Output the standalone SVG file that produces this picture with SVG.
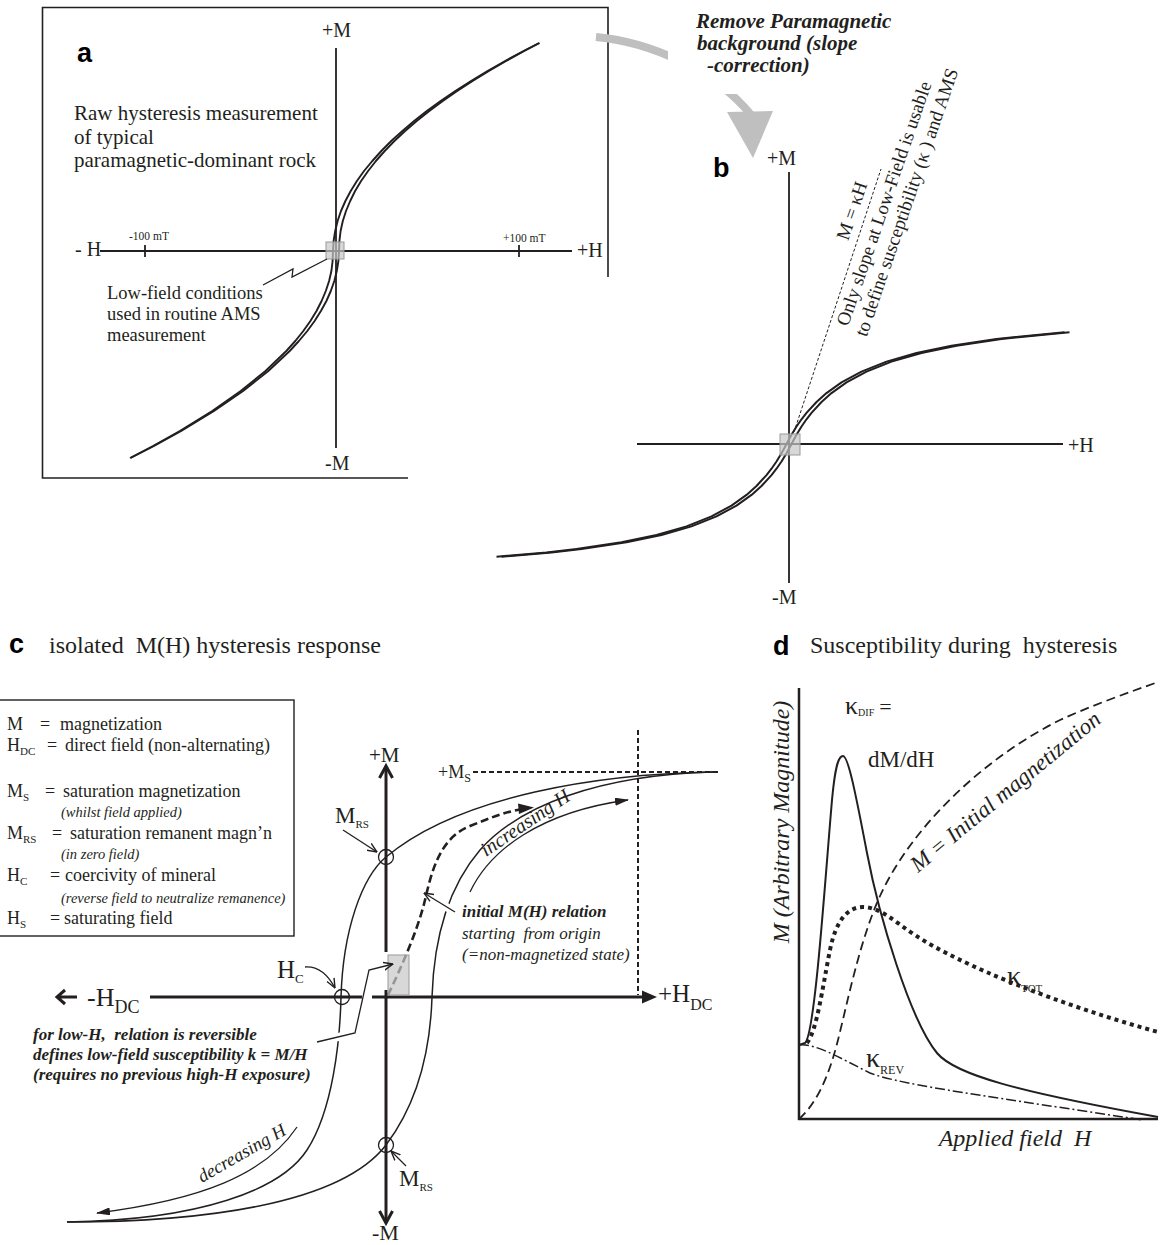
<svg xmlns="http://www.w3.org/2000/svg" xmlns:xlink="http://www.w3.org/1999/xlink" width="1166" height="1245" viewBox="0 0 1166 1245">
<style>
.ln{stroke:#231f20;fill:none}
.t{font-family:"Liberation Serif","Times New Roman",serif;fill:#231f20}
.it{font-family:"Liberation Serif","Times New Roman",serif;font-style:italic;fill:#231f20}
.bi{font-family:"Liberation Serif","Times New Roman",serif;font-style:italic;font-weight:bold;fill:#231f20}
.lab{font-family:"Liberation Sans",Arial,sans-serif;font-weight:bold;font-size:27px;fill:#000}
.box{fill:#c8c8c8;fill-opacity:0.7;stroke:#9a9a9a;stroke-width:1}
</style>
<defs>
<marker id="open" viewBox="0 0 10 10" refX="9.5" refY="5" markerWidth="10" markerHeight="10" markerUnits="userSpaceOnUse" orient="auto"><path d="M0,1 L9.5,5 L0,9" fill="none" stroke="#231f20" stroke-width="1.4"/></marker>
<marker id="fill" viewBox="0 0 14 8" refX="13" refY="4" markerWidth="14" markerHeight="8" markerUnits="userSpaceOnUse" orient="auto"><path d="M0,0 L14,4 L0,8 z" fill="#231f20"/></marker>
<path id="curveB" d="M499,556.8 L549,552.4 L579,549 L624,542.3 L659,535 L689,526.4 L714,516.4 L734,505.6 L749,494.9 L759,486 L769,475.1 L774,468.7 L779,461.5 L784,453.3 L789,444 L794,434.7 L799,426.5 L804,419.3 L809,412.9 L819,402 L829,393.1 L844,382.4 L864,371.6 L889,361.6 L919,353 L954,345.7 L999,339 L1067,332.2"/>
</defs>
<rect width="1166" height="1245" fill="#fff"/>

<!-- Panel a -->
<g id="panel-a">
<polyline class="ln" stroke-width="1.6" points="408,478 42.5,478 42.5,7.5 608,7.5 608,277"/>
<text class="lab" x="77" y="62">a</text>
<text class="t" font-size="21" x="74" y="120">Raw hysteresis measurement</text>
<text class="t" font-size="21" x="74" y="143.5">of typical</text>
<text class="t" font-size="21" x="74" y="167">paramagnetic-dominant rock</text>
<line class="ln" stroke-width="1.8" x1="336" y1="48" x2="336" y2="448"/>
<line class="ln" stroke-width="1.8" x1="100" y1="251" x2="572" y2="251"/>
<line class="ln" stroke-width="1.8" x1="145" y1="245" x2="145" y2="257"/>
<line class="ln" stroke-width="1.8" x1="519" y1="245" x2="519" y2="257"/>
<text class="t" font-size="20" x="322" y="37">+M</text>
<text class="t" font-size="20" x="325" y="470">-M</text>
<text class="t" font-size="20" x="75" y="256">- H</text>
<text class="t" font-size="20" x="577" y="257">+H</text>
<text class="t" font-size="11.5" x="129" y="240">-100 mT</text>
<text class="t" font-size="11.5" x="503" y="242">+100 mT</text>
<polyline class="ln" stroke-width="1.9" stroke-linejoin="round" points="130.6,458 154,446 181.2,431 214,411 243.1,391 268.3,371 289.7,351 298.9,341 307.3,331 314.6,321 320.9,311 326.4,301 330.8,291 334.3,281 336.8,271 338.4,261 339,251 339.4,241 340.6,231 342.8,221 346,211 350.2,201 355.1,191 361.1,181 368.1,171 375.9,161 384.7,151 394.4,141 405.1,131 416.7,121 429.3,111 442.8,101 457.2,91 472.6,81 488.9,71 506.1,61 524.3,51 539.6,43"/>
<polyline class="ln" stroke-width="1.9" stroke-linejoin="round" points="130,458 153,446 179.8,431 212.2,411 240.7,391 265.5,371 286.3,351 295.3,341 303.3,331 310.4,321 316.5,311 321.6,301 325.8,291 329.1,281 331.4,271 332.6,261 333,251 333.6,241 335.2,231 337.6,221 341,211 345.4,201 350.7,191 356.9,181 364,171 372.3,161 381.3,151 391.2,141 402.4,131 414.1,121 426.8,111 440.6,101 455.3,91 471,81 487.5,71 505.1,61 523.5,51 539,43"/>
<rect class="box" x="326" y="242" width="18" height="17"/>
<polyline class="ln" stroke-width="1.3" points="263,285 293,269 292,277 327,259"/>
<text class="t" font-size="18.5" x="107" y="299">Low-field conditions</text>
<text class="t" font-size="18.5" x="107" y="320">used in routine AMS</text>
<text class="t" font-size="18.5" x="107" y="341">measurement</text>
</g>

<!-- Slope-correction arrow -->
<g id="slope-arrow">
<path d="M596,37 C650,42 715,70 752,116" fill="none" stroke="#bfbfbf" stroke-width="8"/>
<rect x="668" y="4" width="240" height="90" fill="#fff"/>
<polygon points="727,112 773,111 753,158" fill="#bfbfbf"/>
<text class="bi" font-size="21" x="696" y="28">Remove Paramagnetic</text>
<text class="bi" font-size="21" x="697" y="50">background (slope</text>
<text class="bi" font-size="21" x="707" y="72">-correction)</text>
</g>

<!-- Panel b -->
<g id="panel-b">
<text class="lab" x="713" y="177">b</text>
<line class="ln" stroke-width="1.8" x1="789" y1="172" x2="789" y2="583"/>
<line class="ln" stroke-width="1.8" x1="637" y1="444" x2="1063" y2="444"/>
<text class="t" font-size="20" x="767" y="165">+M</text>
<text class="t" font-size="20" x="772" y="604">-M</text>
<text class="t" font-size="20" x="1068" y="452">+H</text>
<use xlink:href="#curveB" class="ln" stroke-width="2" stroke-linejoin="round" transform="translate(2.5,0)"/>
<use xlink:href="#curveB" class="ln" stroke-width="2" stroke-linejoin="round" transform="translate(-2.5,0)"/>
<line class="ln" stroke-width="1" stroke-dasharray="3,2" x1="794" y1="432" x2="881" y2="169"/>
<rect class="box" x="780" y="434" width="20" height="21"/>
<g transform="translate(848,327) rotate(-71)">
<text class="t" font-size="19" x="81" y="-28">M = κH</text>
<text class="t" font-size="19" x="0" y="0">Only slope at Low-Field is usable</text>
<text class="t" font-size="19" x="-4" y="21">to define susceptibility (κ ) and AMS</text>
</g>
</g>

<!-- Panel c -->
<g id="panel-c">
<text class="lab" x="9" y="653">c</text>
<text class="t" font-size="24" x="49" y="653" xml:space="preserve">isolated  M(H) hysteresis response</text>
<g id="legend">
<rect x="-2" y="700" width="296" height="236" fill="#fff" stroke="#231f20" stroke-width="1.4"/>
<g class="t" font-size="18">
<text x="7" y="730">M</text><text x="40" y="730">=</text><text x="60" y="730">magnetization</text>
<text x="7" y="751">H<tspan font-size="11" dy="4">DC</tspan></text><text x="47" y="751">=</text><text x="65" y="751">direct field (non-alternating)</text>
<text x="7" y="797">M<tspan font-size="11" dy="4">S</tspan></text><text x="45" y="797">=</text><text x="63" y="797">saturation magnetization</text>
<text x="7" y="839">M<tspan font-size="11" dy="4">RS</tspan></text><text x="52" y="839">=</text><text x="70" y="839">saturation remanent magn’n</text>
<text x="7" y="881">H<tspan font-size="11" dy="4">C</tspan></text><text x="50" y="881">=</text><text x="65" y="881">coercivity of mineral</text>
<text x="7" y="924">H<tspan font-size="11" dy="4">S</tspan></text><text x="50" y="924">=</text><text x="64" y="924">saturating field</text>
</g>
<g class="it" font-size="14.5">
<text x="61" y="817">(whilst field applied)</text>
<text x="61" y="859">(in zero field)</text>
<text x="61" y="903">(reverse field to neutralize remanence)</text>
</g>
</g>
<!-- dashed saturation guides -->
<line class="ln" stroke-width="2" stroke-dasharray="5,3" x1="473" y1="772" x2="720" y2="772"/>
<line class="ln" stroke-width="2" stroke-dasharray="5,3" x1="638" y1="730" x2="638" y2="995"/>
<!-- hysteresis loop -->
<path id="desc" class="ln" stroke-width="1.5" d="M713,772 C600,774 460,795 386,857 C362,877 343,930 341,997 C340,1040 333,1110 307,1150 C281,1190 200,1220 67,1222"/>
<path id="asc" class="ln" stroke-width="1.5" d="M67,1222 C200,1222 340,1205 386,1145 C414,1108 430,1060 432,997 C434,934 450,885 480,850 C520,805 600,775 713,772"/>
<!-- halos for leaders crossing curves -->
<line x1="320" y1="1041" x2="352" y2="1034" stroke="#fff" stroke-width="8"/>
<line x1="458" y1="914" x2="440" y2="903" stroke="#fff" stroke-width="8"/>
<!-- axes -->
<line class="ln" stroke-width="3" x1="386" y1="767" x2="386" y2="952"/>
<line class="ln" stroke-width="3" x1="386" y1="990" x2="386" y2="1222"/>
<line class="ln" stroke-width="3" x1="150" y1="997" x2="362" y2="997"/>
<line class="ln" stroke-width="3" x1="372" y1="997" x2="645" y2="997"/>
<path class="ln" stroke-width="3" d="M379.5,778 L386,766 L392.5,778"/>
<path class="ln" stroke-width="3" d="M379.5,1211 L386,1223 L392.5,1211"/>
<polygon points="642,990.5 657,997 642,1003.5" fill="#231f20"/>
<path class="ln" stroke-width="3" d="M77,997 L57,997 M65,990 L57,997 L65,1004"/>
<!-- initial magnetization -->
<path class="ln" stroke-width="2.6" stroke-dasharray="8,4" d="M388,995 C400,970 418,930 425,900 C432,870 440,838 470,826 C490,818 505,812 520,809.5"/>
<polygon points="518,803.5 534,807.5 519,814" fill="#231f20"/>
<rect class="box" x="388" y="955" width="21" height="40"/>
<!-- increasing / decreasing arrows -->
<path class="ln" stroke-width="1.3" marker-end="url(#fill)" d="M470,892 C490,850 540,812 628,800"/>
<path class="ln" stroke-width="1.3" marker-end="url(#fill)" d="M297,1127 C265,1175 200,1200 97,1213"/>
<text class="it" font-size="20" transform="translate(486,857) rotate(-34)">increasing H</text>
<text class="it" font-size="18.5" transform="translate(202,1183) rotate(-30)">decreasing H</text>
<!-- circles -->
<circle class="ln" stroke-width="1.3" cx="342" cy="997" r="7.5"/>
<circle class="ln" stroke-width="1.3" cx="386" cy="857" r="7.5"/>
<circle class="ln" stroke-width="1.3" cx="386" cy="1145" r="7.5"/>
<!-- leaders -->
<path class="ln" stroke-width="1.3" marker-end="url(#open)" d="M305,967 C318,966 328,975 335,988"/>
<line class="ln" stroke-width="1.3" marker-end="url(#open)" x1="343" y1="830" x2="377" y2="852"/>
<line class="ln" stroke-width="1.3" marker-end="url(#open)" x1="406" y1="1166" x2="391" y2="1151"/>
<line class="ln" stroke-width="1.3" marker-end="url(#open)" x1="455" y1="912" x2="424" y2="893"/>
<polyline class="ln" stroke-width="1.3" marker-end="url(#open)" points="317,1042 355,1033 369,970 393,964"/>
<!-- labels -->
<text class="t" font-size="21" x="369" y="762">+M</text>
<text class="t" font-size="22" x="372" y="1240">-M</text>
<text class="t" font-size="18" x="438" y="778">+M<tspan font-size="12" dy="4">S</tspan></text>
<text class="t" font-size="23" x="335" y="823">M<tspan font-size="11" dy="5">RS</tspan></text>
<text class="t" font-size="23" x="399" y="1186">M<tspan font-size="11" dy="5">RS</tspan></text>
<text class="t" font-size="25" x="277" y="978">H<tspan font-size="13" dy="5">C</tspan></text>
<text class="t" font-size="26" x="87" y="1006">-H<tspan font-size="18" dy="7">DC</tspan></text>
<text class="t" font-size="25" x="658" y="1002">+H<tspan font-size="16" dy="8">DC</tspan></text>
<text class="bi" font-size="17" x="462" y="917">initial M(H) relation</text>
<text class="it" font-size="17" x="462" y="939" xml:space="preserve">starting  from origin</text>
<text class="it" font-size="17" x="462" y="960">(=non-magnetized state)</text>
<text class="bi" font-size="17" x="33" y="1040" xml:space="preserve">for low-H,  relation is reversible</text>
<text class="bi" font-size="17" x="33" y="1060">defines low-field susceptibility k = M/H</text>
<text class="bi" font-size="17" x="33" y="1080">(requires no previous high-H exposure)</text>
</g>

<!-- Panel d -->
<g id="panel-d">
<text class="lab" x="773" y="655">d</text>
<text class="t" font-size="24" x="810" y="653" xml:space="preserve">Susceptibility during  hysteresis</text>
<line class="ln" stroke-width="2.5" x1="799" y1="688" x2="799" y2="1120"/>
<line class="ln" stroke-width="2.5" x1="798" y1="1119" x2="1158" y2="1119"/>
<text class="it" font-size="24" text-anchor="middle" transform="translate(789,822) rotate(-90)">M (Arbitrary Magnitude)</text>
<text class="it" font-size="24" text-anchor="middle" x="1015" y="1146" xml:space="preserve">Applied field  H</text>
<path class="ln" stroke-width="1.8" stroke-dasharray="9,5" d="M799,1119 C815,1105 828,1080 838,1040 C848,1000 860,940 880,896 C910,830 980,760 1060,720 C1090,706 1130,692 1158,682"/>
<path class="ln" stroke-width="2" d="M799,1045 L805,1043 C815,1035 825,880 832,800 C835,768 838,756 843,756 C848,756 855,790 867,853 C879,916 910,1020 937,1053 C955,1075 1020,1092 1158,1117"/>
<path class="ln" stroke-width="4" stroke-dasharray="4,4" d="M807,1043 C817,1030 822,990 830,950 C836,920 848,907 863,907 C880,907 895,922 915,935 C960,965 1060,1005 1158,1032"/>
<path class="ln" stroke-width="1.5" stroke-dasharray="10,3,2,3" d="M799,1045 C815,1043 840,1058 870,1073 C900,1085 1000,1098 1143,1120"/>
<text class="t" font-size="26" x="845" y="714">κ<tspan font-size="10" dy="2">DIF</tspan><tspan dx="5" dy="-2" font-size="22">=</tspan></text>
<text class="t" font-size="23" x="868" y="767">dM/dH</text>
<text class="t" font-size="28" x="1007" y="985">κ<tspan font-size="11" dy="7">TOT</tspan></text>
<text class="t" font-size="28" x="866" y="1067">κ<tspan font-size="12" dy="7">REV</tspan></text>
<text class="it" font-size="23" transform="translate(918,873) rotate(-39.4)">M = Initial magnetization</text>
</g>
</svg>
